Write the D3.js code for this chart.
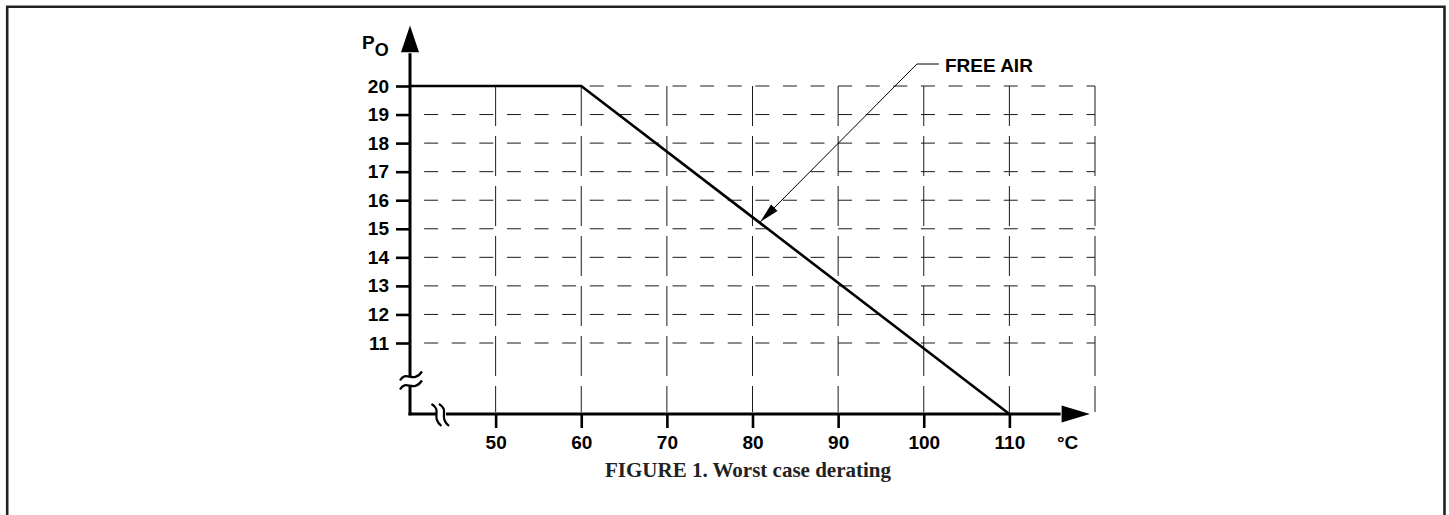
<!DOCTYPE html>
<html>
<head>
<meta charset="utf-8">
<script src="https://cdn.jsdelivr.net/npm/d3@7"></script>
<style>
  html, body { margin: 0; padding: 0; background: #fff; }
  svg { display: block; }
</style>
</head>
<body>
<svg id="chart" width="1449" height="515"></svg>
<script>
// ---- data ----
const xTicks = [50, 60, 70, 80, 90, 100, 110];
const xGrid = [50, 60, 70, 80, 90, 100, 110, 120];
const yTicks = [11, 12, 13, 14, 15, 16, 17, 18, 19, 20];
const tempC = [40, 60, 110];        // ambient temperature (°C)
const powerOut = [20, 20, 0];       // derated output power
const annotationLabel = "FREE AIR";
const annotationPoint = [80.9, 15.24]; // arrow tip on curve
const annotationAnchor = [99.2, 20.77];
const xUnit = "°C";
const yTitle = "P";
const yTitleSub = "O";
const caption = "FIGURE 1. Worst case derating";

// ---- scales ----
const x = d3.scaleLinear().domain([40, 120]).range([410, 1095]);
// broken axis: piecewise linear from 0 to 11, then regular 11..20
const y = d3.scaleLinear().domain([0, 11, 20]).range([414, 343, 86]);

const svg = d3.select("#chart");
const FONT = "'Liberation Sans', Arial, Helvetica, sans-serif";
const FS = 19;

// frame
svg.append("path")
  .attr("d", `M7.2,600 V6.8 H1444.5 V600`)
  .attr("fill", "none").attr("stroke", "#222").attr("stroke-width", 2.6);

// ---- grid ----
const grid = svg.append("g").attr("stroke", "#1a1a1a").attr("stroke-width", 1).attr("fill", "none");
grid.selectAll("line.h").data(yTicks).join("line")
  .attr("x1", x(41.65)).attr("x2", x(120))
  .attr("y1", d => y(d)).attr("y2", d => y(d))
  .attr("stroke-dasharray", "14,13.6");
grid.selectAll("line.v").data(xGrid).join("line")
  .attr("x1", d => x(d)).attr("x2", d => x(d))
  .attr("y1", y(20)).attr("y2", y(0) - 2)
  .attr("stroke-dasharray", "40,10");

// ---- axes ----
const yAxis = d3.axisLeft(y).tickValues(yTicks).tickSize(14).tickPadding(7);
const gy = svg.append("g").attr("transform", `translate(${x(40)},0)`).call(yAxis);
gy.select(".domain").remove();
gy.selectAll(".tick line").attr("stroke", "#000").attr("stroke-width", 2.6);
gy.selectAll(".tick text").attr("font-family", FONT).attr("font-weight", "bold")
  .attr("font-size", FS).attr("fill", "#000");

const xAxis = d3.axisBottom(x).tickValues(xTicks).tickSize(14).tickPadding(8);
const gx = svg.append("g").attr("transform", `translate(0,${y(0)})`).call(xAxis);
gx.select(".domain").remove();
gx.selectAll(".tick line").attr("stroke", "#000").attr("stroke-width", 2.6);
gx.selectAll(".tick text").attr("font-family", FONT).attr("font-weight", "bold")
  .attr("font-size", FS).attr("fill", "#000");

// axis lines with arrows
const yTop = y(22.12), yArrowBase = y(21.18);
svg.append("line").attr("x1", x(40)).attr("x2", x(40))
  .attr("y1", y(0) + 1.3).attr("y2", yArrowBase + 1)
  .attr("stroke", "#000").attr("stroke-width", 3);
svg.append("path")
  .attr("d", `M${x(40)},${yTop} L${x(40) - 9},${yArrowBase} L${x(40) + 9},${yArrowBase} Z`)
  .attr("fill", "#000");
const xTip = x(119.4), xArrowBase = x(116.1);
svg.append("line").attr("x1", x(40) - 1.5).attr("x2", xArrowBase - 1)
  .attr("y1", y(0)).attr("y2", y(0))
  .attr("stroke", "#000").attr("stroke-width", 3);
svg.append("path")
  .attr("d", `M${xTip},${y(0)} L${xArrowBase},${y(0) - 8.5} L${xArrowBase},${y(0) + 8.5} Z`)
  .attr("fill", "#000");

// axis break symbols
const brk = svg.append("g").attr("fill", "none").attr("stroke", "#000").attr("stroke-width", 2.2);
const by = y(0) - 33;
brk.append("rect").attr("x", x(40) - 3).attr("y", by - 5).attr("width", 6).attr("height", 10)
  .attr("fill", "#fff").attr("stroke", "none");
[-4.5, 4.5].forEach(o => {
  brk.append("path").attr("d",
    `M${x(40) - 10},${by + o + 4} C${x(40) - 4},${by + o - 7} ${x(40) + 3},${by + o + 8} ${x(40) + 12},${by + o - 5}`);
});
const bx = x(43.5);
brk.append("rect").attr("x", bx - 4).attr("y", y(0) - 3).attr("width", 10).attr("height", 6)
  .attr("fill", "#fff").attr("stroke", "none");
[-3.5, 4].forEach(o => {
  brk.append("path").attr("d",
    `M${bx + o - 5},${y(0) - 10} C${bx + o + 6},${y(0) - 4} ${bx + o - 6},${y(0) + 3} ${bx + o + 5},${y(0) + 12}`);
});

// ---- data line ----
const line = d3.line().x(d => x(d[0])).y(d => y(d[1]));
svg.append("path")
  .datum(tempC.map((t, i) => [t, powerOut[i]]))
  .attr("d", line)
  .attr("fill", "none").attr("stroke", "#000").attr("stroke-width", 2.6)
  .attr("stroke-linejoin", "miter");

// ---- annotation ----
const ax0 = x(annotationAnchor[0]), ay0 = y(annotationAnchor[1]);
const tx = x(annotationPoint[0]), ty = y(annotationPoint[1]);
svg.append("path")
  .attr("d", `M${ax0 + 22},${ay0} H${ax0} L${tx},${ty}`)
  .attr("fill", "none").attr("stroke", "#000").attr("stroke-width", 1);
const ang = Math.atan2(ty - ay0, tx - ax0);
const L = 20, W = 4.5;
const bxp = tx - L * Math.cos(ang), byp = ty - L * Math.sin(ang);
svg.append("path")
  .attr("d", `M${tx},${ty} L${bxp + W * Math.sin(ang)},${byp - W * Math.cos(ang)} L${bxp - W * Math.sin(ang)},${byp + W * Math.cos(ang)} Z`)
  .attr("fill", "#000");
svg.append("text").attr("x", ax0 + 28).attr("y", ay0 + 8)
  .attr("font-family", FONT).attr("font-weight", "bold").attr("font-size", FS)
  .text(annotationLabel);

// ---- axis titles ----
const yt = svg.append("text").attr("x", x(40) - 48).attr("y", 49)
  .attr("font-family", FONT).attr("font-weight", "bold").attr("font-size", FS);
yt.append("tspan").text(yTitle);
yt.append("tspan").attr("dy", 7).attr("font-size", 18).text(yTitleSub);

svg.append("text").attr("x", 1057).attr("y", 449)
  .attr("font-family", FONT).attr("font-weight", "bold").attr("font-size", FS)
  .text(xUnit);

// ---- caption ----
svg.append("text").attr("x", 748).attr("y", 477).attr("text-anchor", "middle")
  .attr("font-family", "'Liberation Serif', 'Times New Roman', serif").attr("font-weight", "bold")
  .attr("font-size", 21).attr("fill", "#222")
  .text(caption);
</script>
</body>
</html>
